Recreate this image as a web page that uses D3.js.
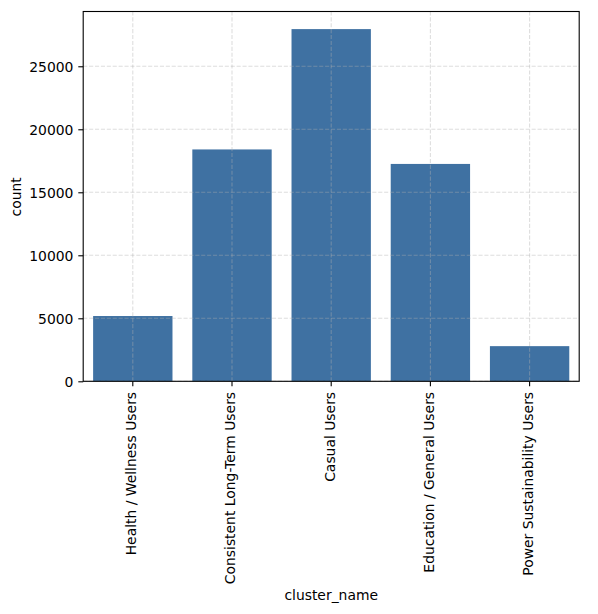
<!DOCTYPE html>
<html><head><meta charset="utf-8">
<script src="https://cdn.jsdelivr.net/npm/d3@7/dist/d3.min.js"></script>
<style>html,body{margin:0;padding:0;background:#fff}svg{display:block}text{font-family:"DejaVu Sans",sans-serif;fill:#000}</style>
</head><body><svg id="c" width="598" height="614"></svg>
<script>
const categories=["Health / Wellness Users","Consistent Long-Term Users","Casual Users","Education / General Users","Power Sustainability Users"];
const counts=[5180,18400,27950,17250,2790];
const yTicks=[0,5000,10000,15000,20000,25000];
const m={l:83.2,r:579.2,t:11.5,b:381.3};
const svg=d3.select("#c");
const x=d3.scaleBand().domain(categories).range([m.l,m.r]).paddingInner(0.2).paddingOuter(0.1);
const y=d3.scaleLinear().domain([0,29347]).range([m.b,m.t]);
svg.append("g").selectAll("rect").data(categories).join("rect")
 .attr("x",d=>x(d)).attr("width",x.bandwidth())
 .attr("y",(d,i)=>y(counts[i])).attr("height",(d,i)=>y(0)-y(counts[i]))
 .attr("fill","#3f71a2");
const grid=svg.append("g").attr("stroke","#b0b0b0").attr("stroke-opacity",0.42).attr("stroke-width",1.1).attr("stroke-dasharray","4.1,1.8");
grid.selectAll("line.v").data(categories).join("line").attr("class","v")
 .attr("x1",d=>x(d)+x.bandwidth()/2).attr("x2",d=>x(d)+x.bandwidth()/2).attr("y1",m.b).attr("y2",m.t);
grid.selectAll("line.h").data(yTicks).join("line").attr("class","h")
 .attr("x1",m.l).attr("x2",m.r).attr("y1",d=>y(d)).attr("y2",d=>y(d));
const ax=svg.append("g").attr("transform",`translate(0,${m.b})`).call(d3.axisBottom(x).tickSize(4.9).tickPadding(4.9));
ax.select(".domain").remove();
ax.selectAll("text").style("font-size","13.9px").attr("text-anchor","end").attr("dy",null)
 .attr("transform","rotate(-90)").attr("x",-10.6).attr("y",-1.6).attr("dominant-baseline","central");
ax.selectAll("line").attr("stroke","#000").attr("stroke-width",1.1);
const ay=svg.append("g").attr("transform",`translate(${m.l},0)`).call(d3.axisLeft(y).tickValues(yTicks).tickFormat(d3.format("d")).tickSize(4.9).tickPadding(4.9));
ay.select(".domain").remove();
ay.selectAll("text").style("font-size","13.9px").attr("dy","0.36em");
ay.selectAll("line").attr("stroke","#000").attr("stroke-width",1.1);
svg.append("rect").attr("x",m.l).attr("y",m.t).attr("width",m.r-m.l).attr("height",m.b-m.t).attr("fill","none").attr("stroke","#000").attr("stroke-width",1.1);
svg.append("text").attr("x",(m.l+m.r)/2).attr("y",600).attr("text-anchor","middle").style("font-size","13.9px").text("cluster_name");
svg.append("text").attr("transform",`translate(21,${(m.t+m.b)/2+0.5}) rotate(-90)`).attr("text-anchor","middle").style("font-size","13.9px").text("count");
</script></body></html>
